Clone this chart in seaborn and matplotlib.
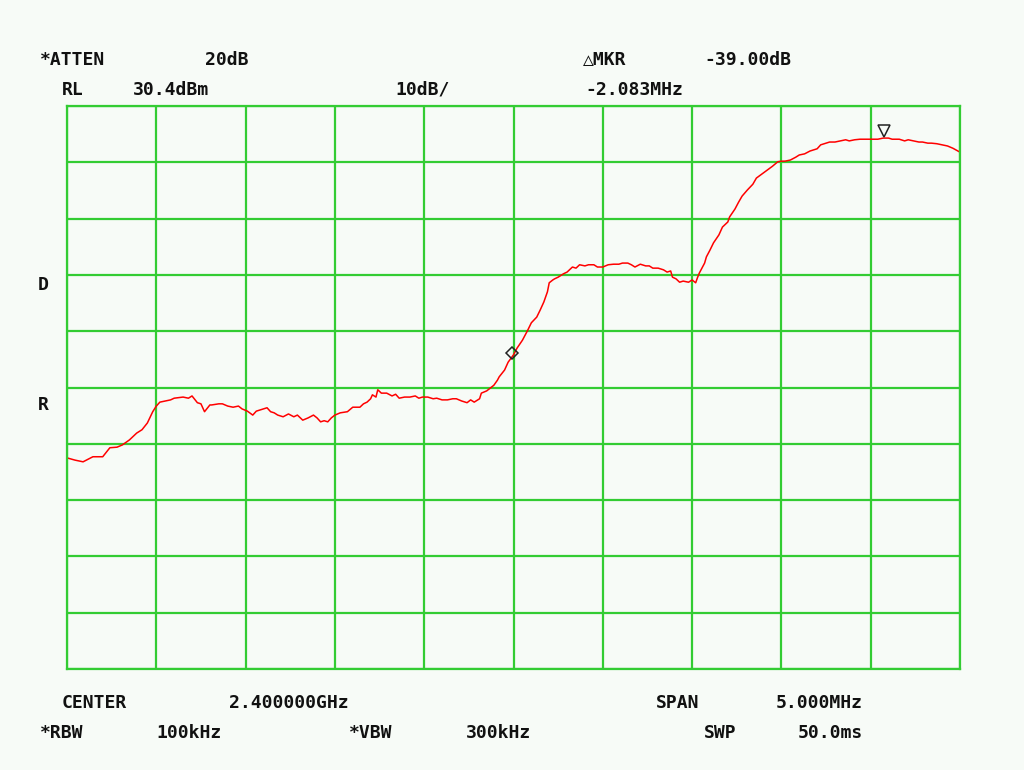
import numpy as np
import seaborn as sns
from matplotlib import pyplot as plt
from matplotlib import transforms

# Spectrum analyzer screen: center 2.4 GHz, span 5 MHz, RL 30.4 dBm, 10 dB/div
freq_mhz = [-2.50, -2.455, -2.41, -2.38, -2.355, -2.30, -2.26, -2.22, -2.19, -2.15,
            -2.11, -2.08, -2.05, -2.02, -2.00, -1.98, -1.95, -1.92, -1.90, -1.85,
            -1.82, -1.80, -1.77, -1.75, -1.73, -1.70, -1.69, -1.65, -1.63, -1.60,
            -1.57, -1.54, -1.52, -1.49, -1.46, -1.44, -1.40, -1.38, -1.36, -1.34,
            -1.32, -1.29, -1.26, -1.23, -1.21, -1.18, -1.15, -1.12, -1.10, -1.08,
            -1.06, -1.04, -1.02, -1.00, -0.97, -0.93, -0.90, -0.88, -0.86, -0.84,
            -0.82, -0.80, -0.79, -0.77, -0.76, -0.74, -0.71, -0.68, -0.66, -0.64,
            -0.61, -0.58, -0.55, -0.53, -0.51, -0.48, -0.45, -0.43, -0.40, -0.37,
            -0.34, -0.32, -0.29, -0.26, -0.24, -0.22, -0.19, -0.18, -0.15, -0.13,
            -0.11, -0.09, -0.08, -0.05, -0.03, 0.00, 0.02, 0.05, 0.08, 0.10,
            0.13, 0.15, 0.17, 0.19, 0.20, 0.22, 0.23, 0.25, 0.28, 0.30,
            0.33, 0.35, 0.37, 0.40, 0.42, 0.45, 0.47, 0.50, 0.53, 0.56,
            0.59, 0.61, 0.64, 0.66, 0.68, 0.71, 0.74, 0.76, 0.78, 0.81,
            0.84, 0.86, 0.88, 0.89, 0.91, 0.93, 0.95, 0.98, 1.00, 1.02,
            1.03, 1.04, 1.07, 1.08, 1.10, 1.12, 1.15, 1.17, 1.20, 1.21,
            1.24, 1.26, 1.28, 1.31, 1.34, 1.36, 1.39, 1.42, 1.45, 1.48,
            1.50, 1.52, 1.55, 1.58, 1.60, 1.63, 1.66, 1.68, 1.70, 1.72,
            1.74, 1.77, 1.80, 1.83, 1.86, 1.88, 1.91, 1.94, 2.00, 2.04,
            2.07, 2.10, 2.12, 2.16, 2.19, 2.21, 2.24, 2.27, 2.29, 2.32,
            2.34, 2.37, 2.40, 2.43, 2.46, 2.50]
level_dbm = [-32.1, -32.5, -32.8, -32.3, -31.9, -31.9, -30.3, -30.2, -29.8, -28.9,
             -27.7, -27.1, -25.9, -23.9, -22.9, -22.2, -22.0, -21.8, -21.5, -21.3,
             -21.5, -21.1, -22.3, -22.5, -23.9, -22.7, -22.7, -22.5, -22.5, -22.9,
             -23.1, -22.9, -23.4, -23.8, -24.5, -23.8, -23.4, -23.2, -23.9, -24.1,
             -24.5, -24.8, -24.3, -24.8, -24.5, -25.4, -25.0, -24.5, -25.0, -25.7,
             -25.5, -25.7, -25.0, -24.5, -24.1, -23.9, -23.1, -23.1, -23.1, -22.5,
             -22.2, -21.6, -20.9, -21.3, -20.0, -20.6, -20.6, -21.1, -20.8, -21.5,
             -21.3, -21.3, -21.1, -21.5, -21.3, -21.3, -21.6, -21.5, -21.8, -21.8,
             -21.6, -21.6, -22.0, -22.3, -21.8, -22.2, -21.6, -20.6, -20.2, -19.7,
             -19.2, -18.3, -17.7, -16.5, -15.1, -13.8, -12.6, -11.2, -9.4, -8.1,
             -7.1, -5.8, -4.4, -2.6, -1.0, -0.5, -0.3, 0.0, 0.6, 0.9,
             1.8, 1.6, 2.2, 2.0, 2.2, 2.2, 1.8, 1.8, 2.2, 2.3,
             2.3, 2.5, 2.5, 2.2, 1.8, 2.3, 2.0, 2.0, 1.6, 1.6,
             1.3, 0.9, 1.1, 0.0, -0.3, -0.9, -0.7, -0.9, -0.5, -1.0,
             -0.1, 0.7, 2.5, 3.6, 4.8, 6.1, 7.5, 8.9, 9.8, 10.7,
             12.1, 13.3, 14.4, 15.5, 16.5, 17.6, 18.3, 19.0, 19.7, 20.5,
             20.6, 20.6, 20.8, 21.3, 21.7, 21.9, 22.4, 22.6, 22.8, 23.5,
             23.7, 24.0, 24.0, 24.2, 24.4, 24.2, 24.4, 24.5, 24.5, 24.5,
             24.7, 24.7, 24.5, 24.5, 24.2, 24.4, 24.2, 24.0, 24.0, 23.8,
             23.8, 23.7, 23.5, 23.3, 22.9, 22.2]

# markers: main marker (triangle) and delta reference (diamond)
mkr_freq = 2.075
mkr_level = 24.7
delta_freq = -0.008
delta_level = -13.4

ref_level = 30.4
db_per_div = 10
span_mhz = 5.0

sns.set_style("white")
plt.rcParams['font.family'] = ['DejaVu Sans Mono', 'DejaVu Sans']

bg = '#f7fbf7'
grid_green = '#33cc33'

fig = plt.figure(figsize=(10.24, 7.7), dpi=100, facecolor=bg)
ax = fig.add_axes([67 / 1024, 1 - 669 / 770, 893 / 1024, 563 / 770])
ax.set_facecolor(bg)

sns.lineplot(x=freq_mhz, y=level_dbm, ax=ax, color='#ff0000', linewidth=1.1)

ax.plot([delta_freq], [delta_level], marker='D', markersize=6, markerfacecolor='none',
        markeredgecolor='#222222', markeredgewidth=1.1, linestyle='none')
tri_tr = transforms.offset_copy(ax.transData, fig=fig, x=0, y=5, units='points')
ax.plot([mkr_freq], [mkr_level], marker='v', markersize=8, markerfacecolor='none',
        markeredgecolor='#222222', markeredgewidth=1.1, linestyle='none', transform=tri_tr)

bottom = ref_level - 10 * db_per_div
ax.set_xlim(-span_mhz / 2, span_mhz / 2)
ax.set_ylim(bottom, ref_level)
ax.set_xticks(np.linspace(-span_mhz / 2, span_mhz / 2, 11))
ax.set_yticks(np.linspace(bottom, ref_level, 11))
ax.grid(True, color=grid_green, linewidth=1.6)
ax.set_axisbelow(True)
ax.tick_params(length=0, labelbottom=False, labelleft=False)
ax.set_xlabel('')
ax.set_ylabel('')
for s in ax.spines.values():
    s.set_color(grid_green)
    s.set_linewidth(1.6)

labels = [
    ("*ATTEN", 40, 60), ("20dB", 205, 60), ("\u25b3MKR", 583, 60), ("-39.00dB", 704, 60),
    ("RL", 62, 90), ("30.4dBm", 133, 90), ("10dB/", 395, 90), ("-2.083MHz", 585, 90),
    ("D", 38, 285), ("R", 38, 405),
    ("CENTER", 62, 703), ("2.400000GHz", 229, 703), ("SPAN", 656, 703), ("5.000MHz", 776, 703),
    ("*RBW", 40, 733), ("100kHz", 156, 733), ("*VBW", 349, 733), ("300kHz", 466, 733),
    ("SWP", 704, 733), ("50.0ms", 798, 733),
]
for txt, px, py in labels:
    fig.text(px / 1024, 1 - py / 770, txt, ha='left', va='center',
             fontsize=13, fontweight='bold', color='#111111')

plt.savefig("out.png", dpi=100, facecolor=bg)
